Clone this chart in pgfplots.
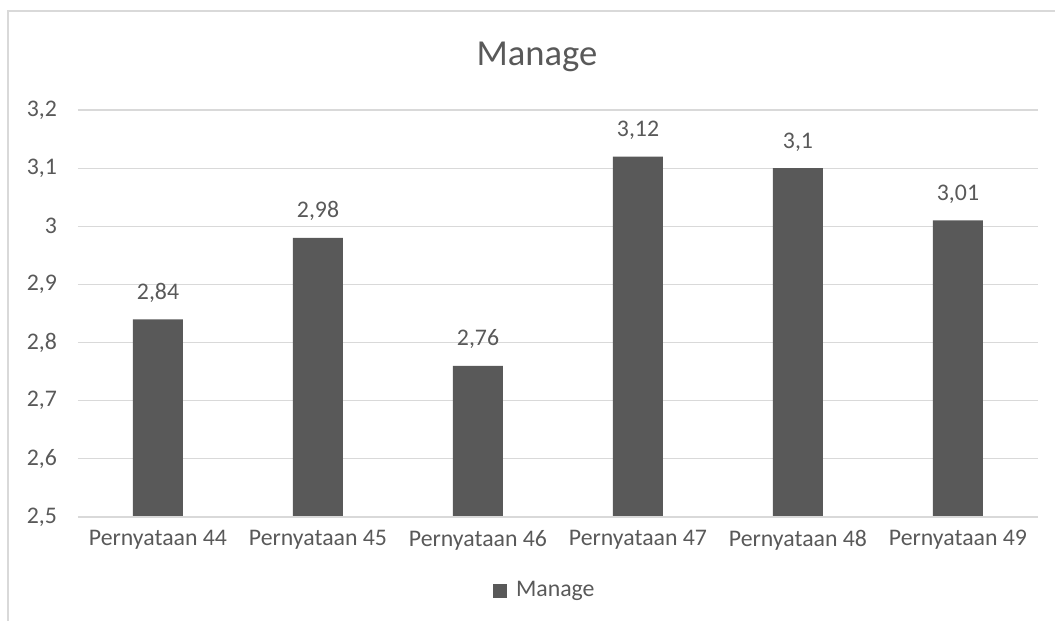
\documentclass[border=0pt]{standalone}
\usepackage{pgfplots}
\pgfplotsset{compat=1.18}
\usepackage{fontspec}
\setmainfont{Carlito}
\definecolor{bargray}{HTML}{595959}
\definecolor{txtgray}{HTML}{595959}
\definecolor{gridgray}{HTML}{D9D9D9}
\begin{document}
\begin{tikzpicture}
\useasboundingbox (-39pt,-52pt) rectangle (488.5pt,258.5pt);
\draw[gridgray, line width=0.6pt] (-35pt,-80pt) -- (-35pt,253pt) -- (520pt,253pt);
\begin{axis}[
  at={(0,0)}, anchor=south west,
  width=480pt, height=203.5pt,
  scale only axis=true,
  xmin=-0.5, xmax=5.5,
  ymin=2.5, ymax=3.2,
  ytick={2.5,2.6,2.7,2.8,2.9,3.0,3.1,3.2},
  xtick=data,
  xticklabels={Pernyataan 44,Pernyataan 45,Pernyataan 46,Pernyataan 47,Pernyataan 48,Pernyataan 49},
  ymajorgrids=true,
  grid style={gridgray, line width=0.6pt},
  axis line style={draw=none},
  axis x line*=bottom,
  axis y line*=left,
  major tick length=0pt,
  tick style={draw=none},
  /pgf/number format/assume math mode=true,
  /pgf/number format/use comma,
  yticklabel style={font=\fontsize{11.9}{13}\selectfont, text=txtgray, xshift=-7pt},
  xticklabel style={font=\fontsize{11.9}{13}\selectfont, text=txtgray, yshift=-3pt},
  ybar, bar width=25pt,
  nodes near coords,
  nodes near coords style={font=\fontsize{11.9}{13}\selectfont, text=txtgray, /pgf/number format/use comma, /pgf/number format/precision=2, yshift=5pt},
  clip=false,
]
\addplot[fill=bargray, draw=none] coordinates {(0,2.84) (1,2.98) (2,2.76) (3,3.12) (4,3.1) (5,3.01)};
\draw[gridgray, line width=0.8pt] (axis cs:-0.5,2.5) -- (axis cs:5.5,2.5);
\end{axis}
\node[font=\fontsize{18.3}{20}\selectfont, text=txtgray] at (229.5pt,230pt) {Manage};
\fill[bargray] (207.5pt,-40.5pt) rectangle (214.5pt,-33.5pt);
\node[font=\fontsize{11.9}{13}\selectfont, text=txtgray, anchor=west] at (215.5pt,-37pt) {Manage};
\end{tikzpicture}
\end{document}
